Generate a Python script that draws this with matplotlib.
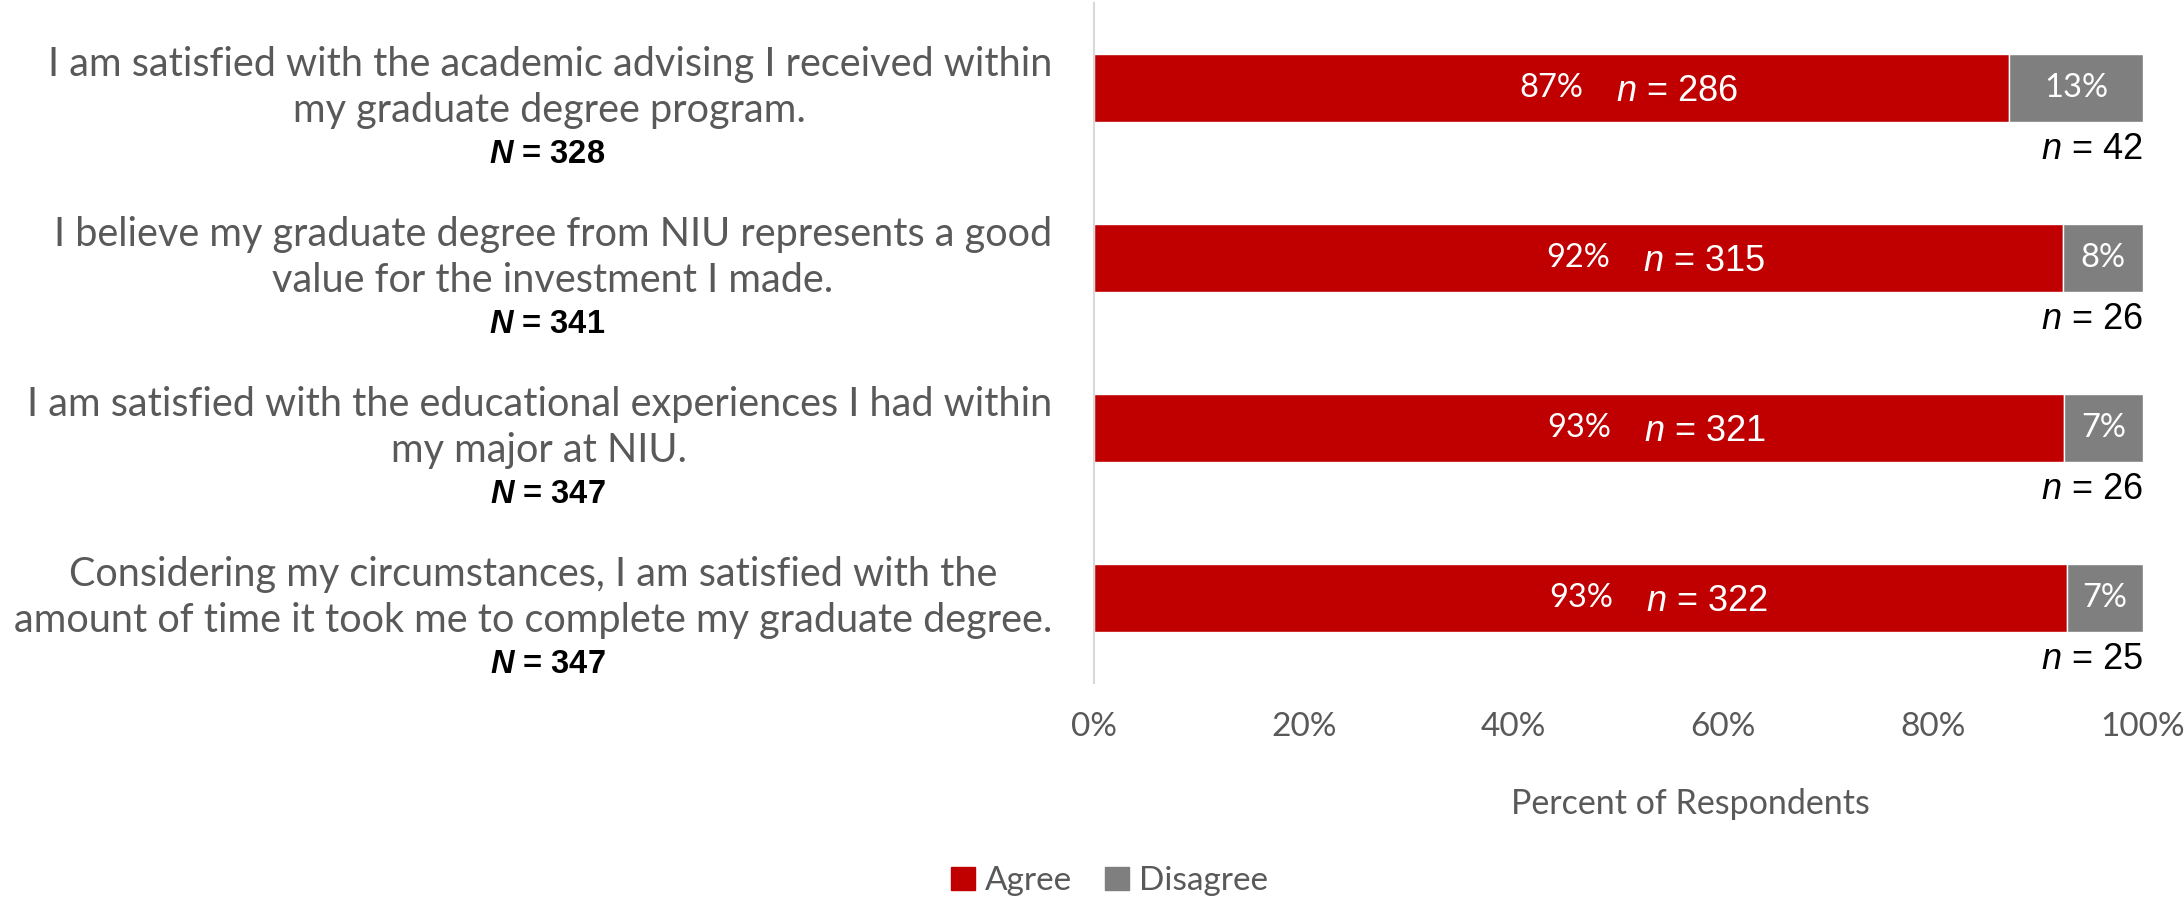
import numpy as np
import matplotlib.pyplot as plt
from matplotlib.patches import Patch

# Survey items (two lines each) and totals
questions = [
    ["I am satisfied with the academic advising I received within", "my graduate degree program."],
    ["I believe my graduate degree from NIU represents a good", "value for the investment I made."],
    ["I am satisfied with the educational experiences I had within", "my major at NIU."],
    ["Considering my circumstances, I am satisfied with the", "amount of time it took me to complete my graduate degree."],
]
totals = [328, 341, 347, 347]

# Percent of respondents (bar lengths) and printed labels
agree = [87.2, 92.4, 92.5, 92.8]
disagree = [12.8, 7.6, 7.5, 7.2]
agree_lbl = [87, 92, 93, 93]
disagree_lbl = [13, 8, 7, 7]
agree_n = [286, 315, 321, 322]
disagree_n = [42, 26, 26, 25]

red = '#C00000'
grey = '#7F7F7F'
txt = '#595959'
plt.rcParams['mathtext.fontset'] = 'custom'
plt.rcParams['mathtext.it'] = 'Liberation Sans:italic'
plt.rcParams['mathtext.bf'] = 'Liberation Sans:bold:italic'
plt.rcParams['mathtext.rm'] = 'Liberation Sans'

fig = plt.figure(figsize=(21.84, 8.99), dpi=100)
ax = fig.add_axes([0.5009, 0.2403, 0.4803, 0.7564])

y = np.arange(len(questions))
ax.barh(y, agree, height=0.4, color=red, edgecolor='white', linewidth=1)
ax.barh(y, disagree, left=agree, height=0.4, color=grey, edgecolor='white', linewidth=1)

ax.set_xlim(0, 100)
ax.set_ylim(3.5, -0.5)
ax.set_xticks(np.arange(0, 101, 20))
ax.set_xticklabels([f'{v}%' for v in range(0, 101, 20)], family='Lato', fontsize=24, color=txt)
ax.set_yticks([])
ax.tick_params(axis='x', length=0, pad=21)
for s in ['top', 'right', 'bottom']:
    ax.spines[s].set_visible(False)
ax.spines['left'].set_color('#D9D9D9')
ax.spines['left'].set_linewidth(1.5)

ytr = ax.get_yaxis_transform()
for i in range(len(questions)):
    a, d = agree[i], disagree[i]
    ax.text(a / 2, i, f'{agree_lbl[i]}%', ha='center', va='center', color='white',
            family='Lato', fontsize=23.5)
    ax.text(a / 2 + 12, i + 0.02, f'$n$ = {agree_n[i]}', ha='center', va='center',
            color='white', family='Liberation Sans', fontsize=26)
    ax.text(a + d / 2, i, f'{disagree_lbl[i]}%', ha='center', va='center', color='white',
            family='Lato', fontsize=23.5)
    ax.text(100, i + 0.36, f'$n$ = {disagree_n[i]}', ha='right', va='center',
            color='black', family='Liberation Sans', fontsize=26)
    # question text and total
    ax.text(-0.04, i, '\n'.join(questions[i]), transform=ytr, ha='right', va='center',
            multialignment='center', color=txt, family='Lato', fontsize=28.5, linespacing=1.3)
    ax.text(-0.521, i + 0.39, r'$\mathbf{N}$ = ' + str(totals[i]), transform=ytr,
            ha='center', va='center', color='black', family='Liberation Sans',
            fontweight='bold', fontsize=23.5)

fig.text(1690 / 2184, 1 - 804 / 899, 'Percent of Respondents', ha='center', va='center',
         family='Lato', fontsize=24.5, color=txt)

handles = [Patch(color=red, label='Agree'), Patch(color=grey, label='Disagree')]
leg = fig.legend(handles=handles, loc='center', bbox_to_anchor=(0.508, 0.02), ncol=2,
                 frameon=False, handlelength=0.7, handleheight=0.7, handletextpad=0.3,
                 columnspacing=1.0, prop={'family': 'Lato', 'size': 24})
for t in leg.get_texts():
    t.set_color(txt)

fig.savefig('out.png', dpi=100)
